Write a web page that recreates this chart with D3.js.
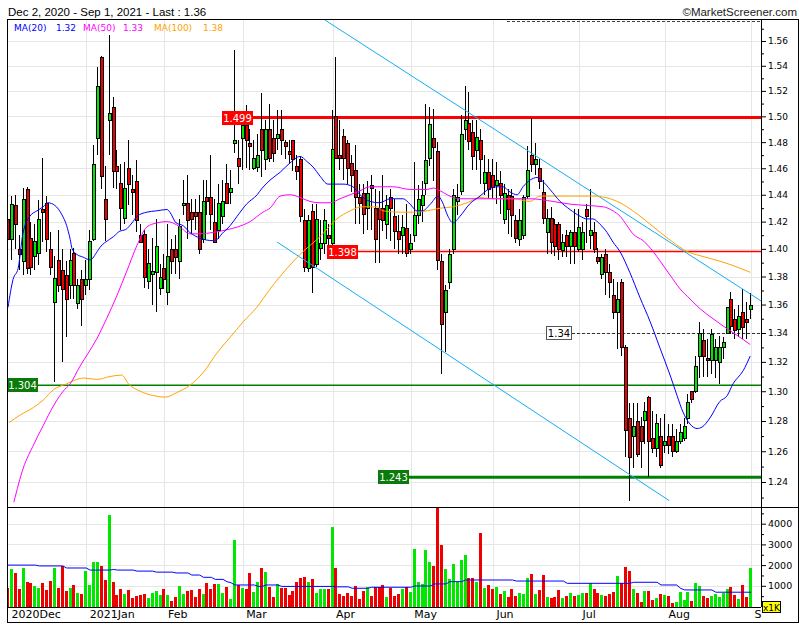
<!DOCTYPE html>
<html><head><meta charset="utf-8">
<script src="https://cdn.jsdelivr.net/npm/d3@7/dist/d3.min.js"></script>
<style>html,body{margin:0;padding:0;background:#fff;}svg{display:block;}</style>
</head><body><svg id="chart" width="805" height="630"></svg>
<script>
// ---------------- DATA (one entry per trading day, Dec 2 2020 .. Sep 1 2021) ----------------
const open = [
1.422,1.407,1.432,1.400,1.391,1.444,1.408,1.395,1.397,1.429,
1.434,1.400,1.362,1.392,1.385,1.381,1.374,1.397,1.361,1.378,
1.374,1.378,1.407,1.483,1.547,1.437,1.497,1.507,1.462,1.449,
1.423,1.460,1.444,1.450,1.410,1.411,1.377,1.382,1.383,1.372,
1.386,1.369,1.400,1.400,1.391,1.432,1.434,1.427,1.427,1.427,
1.407,1.438,1.438,1.420,1.414,1.424,1.449,1.442,1.479,1.468,
1.483,1.493,1.479,1.460,1.461,1.490,1.467,1.490,1.483,1.483,
1.490,1.480,1.473,1.482,1.462,1.467,1.421,1.386,1.428,1.389,
1.401,1.404,1.410,1.404,1.500,1.470,1.485,1.479,1.464,1.459,
1.438,1.441,1.430,1.447,1.430,1.430,1.430,1.418,1.438,1.424,
1.413,1.410,1.415,1.400,1.410,1.425,1.432,1.449,1.468,1.483,
1.473,1.391,1.355,1.376,1.400,1.435,1.443,1.490,1.495,1.488,
1.474,1.482,1.449,1.457,1.455,1.447,1.449,1.422,1.440,1.439,
1.421,1.407,1.410,1.439,1.470,1.463,1.460,1.442,1.412,1.423,
1.418,1.418,1.399,1.410,1.402,1.412,1.400,1.400,1.429,1.410,
1.412,1.394,1.382,1.396,1.383,1.367,1.355,1.376,1.330,1.282,
1.270,1.280,1.277,1.281,1.296,1.269,1.262,1.270,1.264,1.270,
1.270,1.260,1.267,1.269,1.282,1.300,1.300,1.324,1.335,1.323,
1.321,1.321,1.320,1.330,1.340,1.364,1.350,1.343,1.355,1.350,
1.357];
const high = [
1.428,1.439,1.440,1.410,1.445,1.446,1.420,1.418,1.436,1.468,
1.439,1.412,1.395,1.414,1.400,1.391,1.400,1.401,1.378,1.385,
1.392,1.414,1.478,1.539,1.548,1.462,1.565,1.515,1.474,1.463,
1.465,1.482,1.455,1.466,1.418,1.414,1.400,1.408,1.422,1.389,
1.396,1.418,1.407,1.410,1.422,1.451,1.455,1.437,1.437,1.440,
1.451,1.451,1.470,1.437,1.448,1.451,1.463,1.459,1.553,1.482,
1.501,1.509,1.490,1.482,1.486,1.518,1.497,1.510,1.497,1.505,
1.505,1.482,1.482,1.482,1.470,1.469,1.429,1.425,1.433,1.433,
1.421,1.429,1.418,1.505,1.547,1.497,1.490,1.482,1.470,1.478,
1.448,1.448,1.450,1.455,1.444,1.443,1.455,1.440,1.444,1.437,
1.425,1.425,1.433,1.411,1.465,1.447,1.450,1.510,1.507,1.506,
1.480,1.396,1.374,1.400,1.444,1.448,1.501,1.524,1.519,1.497,
1.497,1.490,1.470,1.467,1.467,1.465,1.458,1.448,1.444,1.444,
1.425,1.429,1.440,1.477,1.499,1.479,1.467,1.451,1.429,1.431,
1.422,1.420,1.411,1.414,1.414,1.429,1.429,1.420,1.433,1.444,
1.420,1.401,1.396,1.400,1.389,1.378,1.376,1.378,1.332,1.292,
1.292,1.292,1.283,1.293,1.297,1.287,1.285,1.282,1.285,1.278,
1.278,1.275,1.278,1.282,1.298,1.300,1.324,1.348,1.343,1.336,
1.343,1.336,1.338,1.337,1.358,1.369,1.357,1.360,1.371,1.362,
1.368];
const low = [
1.391,1.392,1.400,1.385,1.381,1.382,1.381,1.385,1.388,1.405,
1.398,1.381,1.306,1.369,1.320,1.337,1.364,1.364,1.357,1.345,
1.367,1.370,1.406,1.470,1.444,1.406,1.470,1.445,1.444,1.414,
1.418,1.432,1.425,1.412,1.404,1.372,1.371,1.360,1.355,1.367,
1.371,1.360,1.382,1.382,1.378,1.425,1.407,1.411,1.414,1.396,
1.404,1.425,1.414,1.404,1.407,1.418,1.433,1.433,1.472,1.448,
1.459,1.460,1.459,1.459,1.457,1.453,1.459,1.465,1.465,1.474,
1.470,1.467,1.463,1.458,1.451,1.420,1.383,1.383,1.368,1.387,
1.392,1.396,1.396,1.398,1.467,1.459,1.451,1.448,1.442,1.418,
1.418,1.411,1.414,1.414,1.390,1.390,1.413,1.407,1.406,1.400,
1.396,1.396,1.394,1.396,1.405,1.418,1.420,1.440,1.462,1.450,
1.385,1.312,1.327,1.371,1.396,1.425,1.440,1.482,1.474,1.459,
1.459,1.448,1.440,1.437,1.437,1.433,1.426,1.418,1.411,1.409,
1.404,1.402,1.407,1.437,1.457,1.455,1.444,1.418,1.396,1.396,
1.395,1.392,1.394,1.394,1.389,1.389,1.398,1.392,1.404,1.400,
1.397,1.389,1.378,1.367,1.365,1.350,1.329,1.324,1.256,1.228,
1.249,1.256,1.249,1.265,1.243,1.259,1.256,1.249,1.259,1.258,
1.256,1.259,1.265,1.267,1.278,1.292,1.299,1.309,1.310,1.310,
1.312,1.309,1.305,1.322,1.339,1.339,1.336,1.337,1.336,1.336,
1.350];
const close = [
1.407,1.433,1.418,1.396,1.437,1.386,1.387,1.406,1.422,1.427,
1.407,1.387,1.379,1.374,1.371,1.364,1.392,1.374,1.374,1.364,
1.378,1.406,1.463,1.524,1.454,1.422,1.503,1.458,1.458,1.430,
1.445,1.448,1.442,1.421,1.405,1.380,1.390,1.384,1.402,1.380,
1.378,1.395,1.391,1.394,1.417,1.434,1.421,1.422,1.424,1.400,
1.435,1.435,1.426,1.405,1.434,1.435,1.434,1.445,1.482,1.462,
1.493,1.482,1.477,1.468,1.470,1.474,1.490,1.468,1.472,1.486,
1.482,1.477,1.471,1.467,1.458,1.424,1.387,1.421,1.387,1.422,
1.404,1.421,1.408,1.475,1.468,1.468,1.468,1.460,1.455,1.438,
1.434,1.426,1.441,1.445,1.407,1.422,1.421,1.432,1.430,1.413,
1.407,1.416,1.397,1.404,1.425,1.437,1.440,1.466,1.494,1.476,
1.392,1.346,1.370,1.396,1.440,1.438,1.486,1.497,1.481,1.469,
1.484,1.467,1.457,1.444,1.446,1.451,1.440,1.441,1.429,1.425,
1.408,1.421,1.438,1.459,1.463,1.467,1.450,1.423,1.423,1.405,
1.402,1.400,1.405,1.402,1.412,1.402,1.416,1.412,1.424,1.414,
1.400,1.391,1.394,1.383,1.376,1.355,1.364,1.330,1.274,1.256,
1.277,1.258,1.267,1.287,1.267,1.262,1.279,1.251,1.267,1.264,
1.260,1.267,1.273,1.277,1.293,1.295,1.317,1.340,1.324,1.321,
1.339,1.330,1.330,1.334,1.358,1.345,1.342,1.352,1.344,1.348,
1.360];
const volume = [
910,1810,1620,850,1860,1180,1130,1000,890,1130,
800,1230,1860,890,1960,750,890,1040,650,590,
1720,1040,2150,2150,1960,1280,4420,1180,540,850,
600,800,410,510,560,590,410,650,750,560,
850,560,270,460,990,590,750,800,460,850,
600,1130,850,1090,1090,650,940,360,3210,1040,
890,850,1620,700,1180,1860,1670,940,460,1090,
890,890,560,750,1180,1380,1430,1180,1330,650,
850,850,850,3840,1860,600,510,650,510,990,
380,750,940,510,940,940,1040,460,890,510,
600,850,930,690,2780,1180,1090,2730,2150,1960,
4800,2970,1810,1330,2060,1200,2250,2490,1380,1380,
1200,3550,880,1040,850,930,600,750,470,850,
510,650,600,1390,1570,600,800,1520,460,410,
460,800,410,510,650,510,560,640,650,1120,
850,650,560,510,600,700,1470,1120,1910,1720,
850,650,230,750,750,310,410,600,560,510,
190,230,700,310,700,270,1120,990,510,410,
510,600,460,650,850,930,560,360,1040,460,
1860];

// Moving averages: [trading-day index, value]
const ma20 = [[0,1.358],[1.3,1.378],[2.6,1.386],[3.8,1.411],[5.6,1.424],[7.4,1.428],[9,1.431],[10.2,1.434],[12,1.432],[13.8,1.425],[15,1.417],[15.9,1.407],[16.4,1.400],[17.6,1.396],[19.2,1.394],[21,1.392],[22.8,1.398],[23.5,1.401],[26,1.407],[27,1.409],[28.6,1.413],[30,1.414],[31.7,1.419],[33,1.424],[35.5,1.427],[38,1.428],[40.7,1.429],[41.4,1.427],[43,1.419],[44.8,1.417],[46.5,1.412],[49,1.408],[52.4,1.406],[53.5,1.407],[54.7,1.411],[56.8,1.417],[58.6,1.424],[61,1.433],[63.7,1.440],[65,1.445],[67,1.451],[69.6,1.457],[72.1,1.464],[74.7,1.469],[76.5,1.465],[78,1.461],[79.8,1.454],[81.8,1.448],[85.7,1.448],[88.2,1.446],[90,1.440],[92.6,1.435],[95,1.434],[97.7,1.437],[101,1.437],[102.8,1.433],[104.6,1.428],[106,1.428],[108,1.433],[110,1.439],[111,1.435],[112.5,1.424],[113.8,1.419],[115.6,1.424],[118,1.433],[120.7,1.439],[122.8,1.444],[125,1.446],[126.6,1.446],[128.4,1.442],[130.2,1.440],[131.7,1.446],[133.5,1.451],[135.3,1.453],[136.8,1.450],[138.6,1.444],[141.2,1.435],[143.7,1.429],[146.3,1.424],[148,1.422],[149.6,1.422],[151.4,1.418],[153.2,1.412],[154.7,1.405],[156.5,1.398],[159,1.383],[161.6,1.365],[164.2,1.348],[166.8,1.329],[169.3,1.311],[171.1,1.297],[172.6,1.286],[174.4,1.278],[176.2,1.275],[177.5,1.276],[179.5,1.282],[182,1.293],[183.9,1.297],[185.4,1.305],[188,1.314],[189.8,1.324]];
const ma50 = [[1.5,1.227],[3.9,1.249],[6.5,1.264],[9,1.277],[11.6,1.290],[14.1,1.300],[15.9,1.305],[18.4,1.317],[20.5,1.326],[22.7,1.336],[25.2,1.350],[27.8,1.366],[30.4,1.384],[32.9,1.402],[35.5,1.416],[38,1.419],[40.7,1.420],[42.2,1.419],[44,1.416],[46.5,1.411],[49.1,1.411],[52.4,1.412],[56,1.414],[58.6,1.416],[61.9,1.420],[65.2,1.427],[67,1.430],[69.6,1.439],[72.1,1.440],[74.7,1.438],[77.2,1.435],[79.8,1.434],[82.4,1.434],[84.9,1.437],[87.5,1.440],[90,1.443],[92.6,1.446],[98.5,1.446],[102.8,1.444],[107.2,1.444],[108.7,1.445],[110.5,1.443],[112.3,1.440],[113.8,1.438],[115.6,1.437],[124,1.437],[129,1.437],[133.5,1.437],[139.4,1.435],[143.7,1.433],[148,1.432],[152.2,1.431],[154.7,1.428],[156.5,1.424],[158.3,1.417],[159.8,1.411],[162.4,1.406],[165,1.398],[166.8,1.391],[169.3,1.381],[171.9,1.371],[174.4,1.364],[177,1.357],[180.3,1.350],[183.9,1.343],[187.2,1.337],[189.8,1.332]];
const ma100 = [[0.3,1.279],[3.1,1.284],[6.5,1.289],[9,1.294],[11.6,1.301],[15,1.305],[17.6,1.308],[19.3,1.309],[22.7,1.308],[26.1,1.310],[29.1,1.311],[30.8,1.305],[33.8,1.300],[37.2,1.297],[40.2,1.296],[43.1,1.299],[46.5,1.304],[50,1.313],[53.4,1.326],[56.8,1.337],[60.2,1.348],[63.6,1.358],[67,1.371],[71.4,1.386],[74.7,1.396],[79.8,1.409],[84.1,1.422],[87.5,1.428],[90.5,1.431],[94.4,1.431],[95.9,1.428],[100.3,1.427],[103.6,1.427],[107.2,1.428],[110.5,1.430],[113.8,1.431],[117.4,1.434],[120.7,1.438],[124,1.437],[129.2,1.437],[133.5,1.435],[136,1.439],[143.7,1.439],[149.6,1.439],[154,1.437],[156.5,1.434],[159.8,1.428],[163.4,1.420],[166.8,1.412],[170,1.405],[173.7,1.398],[177,1.395],[182.1,1.391],[187.2,1.386],[189.8,1.383]];
const volMA = [[0,2000],[7,2000],[8,1960],[14,1960],[15,1860],[20,1860],[21,1760],[26,1760],[27,1790],[28,1760],[32,1760],[33,1710],[37,1710],[38,1660],[42,1660],[43,1620],[46,1620],[47,1520],[49,1520],[50,1410],[52,1410],[53,1310],[55,1310],[56,1200],[57,1150],[58,1040],[63,1040],[64,970],[65,970],[66,1040],[69,1040],[70,970],[83,970],[84,950],[87,950],[88,880],[92,880],[93,930],[103,930],[104,990],[108,990],[109,1090],[112,1090],[113,1200],[116,1200],[117,1280],[129,1280],[130,1230],[142,1230],[143,1120],[159,1120],[160,1170],[166,1170],[167,1040],[171,1040],[172,880],[173,800],[180,800],[181,690],[190,690]];

const monthLabels = ["2020Dec","2021Jan","Feb","Mar","Apr","May","Jun","Jul","Aug","S"];
const monthStart  = [0,20,40,60,83,103,124,146,168,190];
const priceTicks  = [1.24,1.26,1.28,1.30,1.32,1.34,1.36,1.38,1.40,1.42,1.44,1.46,1.48,1.50,1.52,1.54,1.56];
const priceMinor  = [1.23,1.25,1.27,1.29,1.31,1.33,1.35,1.37,1.39,1.41,1.43,1.45,1.47,1.49,1.51,1.53,1.55,1.57];
const volTicks    = [1000,2000,3000,4000];
const volMinor    = [500,1500,2500,3500,4500];
const levels      = [1.499,1.398,1.304,1.243];
const lastMark    = 1.34;
const trendUpper  = [[81.1,1.577],[192.6,1.3625]];
const trendLower  = [[68.8,1.405],[169.1,1.228]];
const legendNames = ["MA(20)","MA(50)","MA(100)"];
const legendVals  = ["1.32","1.33","1.38"];
const headerText  = "Dec 2, 2020 - Sep 1, 2021 - Last : 1.36";

// ---------------- LAYOUT ----------------
const L=7,R=761,RB=798,T=19,PB=507,VT=508,VB=607,B=622;
const GREEN="#00e800", RED="#ee0000";
const FONT="DejaVu Sans";
const svg=d3.select("#chart");
const x=d3.scaleLinear().domain([0,190]).range([8,751]);
const y=d3.scaleLog().domain([1.24,1.56]).range([482,41]);
const yv=d3.scaleLinear().domain([0,4000]).range([606.5,523.7]);
const idx=d3.range(open.length);

const defs=svg.append("defs");
defs.append("clipPath").attr("id","pclip").append("rect").attr("x",L).attr("y",T).attr("width",R-L).attr("height",PB-T);
defs.append("clipPath").attr("id","vclip").append("rect").attr("x",L).attr("y",VT).attr("width",R-L).attr("height",VB-VT);

svg.append("rect").attr("width",805).attr("height",630).attr("fill","#fff");

// grid
const grid=svg.append("g").attr("stroke","#e6e6e6").attr("shape-rendering","crispEdges");
priceTicks.forEach(v=>{const yy=Math.round(y(v))+0.5;grid.append("line").attr("x1",L).attr("x2",R).attr("y1",yy).attr("y2",yy);});
volTicks.forEach(v=>{const yy=Math.round(yv(v))+0.5;grid.append("line").attr("x1",L).attr("x2",R).attr("y1",yy).attr("y2",yy);});
monthStart.slice(1).forEach(i=>{const xx=Math.round(x(i))+0.5;
  grid.append("line").attr("x1",xx).attr("x2",xx).attr("y1",T).attr("y2",PB);
  grid.append("line").attr("x1",xx).attr("x2",xx).attr("y1",VT).attr("y2",VB);});

// price panel (clipped)
const pg=svg.append("g").attr("clip-path","url(#pclip)");
const levelStyle=[{x0:222,c:"#ff0000",w:3,f:"#ff0000"},{x0:327,c:"#ff0000",w:1.5,f:"#ff0000"},{x0:7,c:"#008000",w:1.5,f:"#0a7a0a"},{x0:378,c:"#008000",w:3,f:"#0a7a0a"}];
levels.forEach((v,k)=>{const s=levelStyle[k];const yy=y(v);
  pg.append("line").attr("x1",s.x0+30).attr("x2",R).attr("y1",yy).attr("y2",yy).attr("stroke",s.c).attr("stroke-width",s.w);});
pg.append("line").attr("x1",572).attr("x2",R).attr("y1",Math.round(y(lastMark))+0.5).attr("y2",Math.round(y(lastMark))+0.5)
  .attr("stroke","#333").attr("stroke-dasharray","3,2");

// candles
const cg=pg.append("g").attr("shape-rendering","crispEdges");
idx.forEach(i=>{
  const cx=Math.round(x(i)); const up=close[i]>=open[i];
  const hi=Math.max(high[i],open[i],close[i]), lo=Math.min(low[i],open[i],close[i]);
  cg.append("line").attr("x1",cx-0.5).attr("x2",cx-0.5).attr("y1",y(hi)).attr("y2",y(lo)).attr("stroke","#000");
  const t=Math.round(y(Math.max(open[i],close[i]))), b=Math.round(y(Math.min(open[i],close[i])));
  cg.append("rect").attr("x",cx-1.5).attr("y",t+0.5).attr("width",3).attr("height",Math.max(1,b-t))
    .attr("fill",up?GREEN:RED).attr("stroke","#000");
});

// trend lines
[trendUpper,trendLower].forEach(tl=>{
  pg.append("line").attr("x1",x(tl[0][0])).attr("y1",y(tl[0][1])).attr("x2",x(tl[1][0])).attr("y2",y(tl[1][1]))
    .attr("stroke","#12aef0").attr("stroke-width",1);});

// moving averages
const mline=d3.line().x(d=>x(d[0])).y(d=>y(d[1])).curve(d3.curveMonotoneX);
[[ma100,"#ffa200"],[ma50,"#ff00ff"],[ma20,"#0000ff"]].forEach(([d,c])=>{
  pg.append("path").attr("d",mline(d)).attr("fill","none").attr("stroke",c).attr("stroke-width",1);});

// level labels
levels.forEach((v,k)=>{const s=levelStyle[k];const yy=Math.round(y(v));
  svg.append("rect").attr("x",s.x0).attr("y",yy-7).attr("width",31).attr("height",14).attr("fill",s.f);
  svg.append("text").attr("x",s.x0+15.5).attr("y",yy+4).attr("text-anchor","middle").attr("fill","#fff")
    .attr("font-family",FONT).attr("font-size",10).text(d3.format(".3f")(v));});
{const yy=Math.round(y(lastMark));
  svg.append("rect").attr("x",546.5).attr("y",yy-6.5).attr("width",25).attr("height",13).attr("fill","#fff").attr("stroke","#555");
  svg.append("text").attr("x",559).attr("y",yy+4).attr("text-anchor","middle").attr("fill","#000")
    .attr("font-family",FONT).attr("font-size",10).text(d3.format(".2f")(lastMark));}

// volume panel
const vg=svg.append("g").attr("clip-path","url(#vclip)");
const vb=vg.append("g").attr("shape-rendering","crispEdges");
idx.forEach(i=>{const cx=Math.round(x(i));const yy=yv(volume[i]);
  vb.append("rect").attr("x",cx-2).attr("y",yy).attr("width",3).attr("height",yv(0)-yy)
    .attr("fill",close[i]>=open[i]?GREEN:RED);});
const vline=d3.line().x(d=>x(d[0])).y(d=>yv(d[1]));
vg.append("path").attr("d",vline(volMA)).attr("fill","none").attr("stroke","#0000ff").attr("stroke-width",1);

// frame
const fr=svg.append("g").attr("stroke","#000").attr("fill","none").attr("shape-rendering","crispEdges");
fr.append("rect").attr("x",L+0.5).attr("y",T+0.5).attr("width",RB-L).attr("height",B-T);
fr.append("line").attr("x1",L).attr("x2",RB).attr("y1",PB+0.5).attr("y2",PB+0.5);
fr.append("line").attr("x1",R+0.5).attr("x2",R+0.5).attr("y1",T).attr("y2",VB);
fr.append("line").attr("x1",L).attr("x2",R).attr("y1",VB+0.5).attr("y2",VB+0.5);
svg.append("line").attr("x1",507).attr("x2",R).attr("y1",21.5).attr("y2",21.5).attr("stroke","#444").attr("stroke-dasharray","3,2");

// axes
function styleAxis(g,size){g.select(".domain").remove();g.attr("font-family",FONT).attr("font-size",size);
  g.selectAll("line").attr("stroke","#000");g.selectAll("text").attr("fill","#000");}
styleAxis(svg.append("g").attr("transform",`translate(${R},0)`)
  .call(d3.axisRight(y).tickValues(priceTicks).tickFormat(d3.format(".2f")).tickSize(5).tickPadding(2)),9);
styleAxis(svg.append("g").attr("transform",`translate(${R},0)`)
  .call(d3.axisRight(y).tickValues(priceMinor).tickFormat("").tickSize(3)),9);
styleAxis(svg.append("g").attr("transform",`translate(${R},0)`)
  .call(d3.axisRight(yv).tickValues(volTicks).tickFormat(d3.format("d")).tickSize(5).tickPadding(2)),9.5);
styleAxis(svg.append("g").attr("transform",`translate(${R},0)`)
  .call(d3.axisRight(yv).tickValues(volMinor).tickFormat("").tickSize(3)),9);
const xa=svg.append("g").attr("transform",`translate(0,${VB})`)
  .call(d3.axisBottom(x).tickValues(monthStart).tickFormat((d,k)=>monthLabels[k]).tickSize(0).tickPadding(3));
styleAxis(xa,11);
xa.selectAll("text").attr("text-anchor","start").attr("dx",3);

// x1K box
svg.append("rect").attr("x",762.5).attr("y",601.5).attr("width",18).attr("height",11).attr("fill","#ffff00").attr("stroke","#000");
svg.append("text").attr("x",771.5).attr("y",610.5).attr("text-anchor","middle").attr("font-family",FONT).attr("font-size",9).text("x1K");

// header
svg.append("text").attr("x",8).attr("y",16).attr("font-family","Liberation Sans").attr("font-size",11.5).attr("fill","#000").text(headerText);
svg.append("text").attr("x",797).attr("y",16).attr("text-anchor","end").attr("font-family","Liberation Sans").attr("font-size",11.5).attr("fill","#222").text("\u00A9MarketScreener.com");

// legend
const legColors=["#0000ff","#ff00ff","#ffa200"];
const legX=[[14,56],[83,123],[154,203]];
legendNames.forEach((n,k)=>{
  svg.append("text").attr("x",legX[k][0]).attr("y",31).attr("font-family",FONT).attr("font-size",9).attr("fill",legColors[k]).text(n);
  svg.append("text").attr("x",legX[k][1]).attr("y",31).attr("font-family",FONT).attr("font-size",9).attr("fill",legColors[k]).text(legendVals[k]);
});
</script></body></html>
